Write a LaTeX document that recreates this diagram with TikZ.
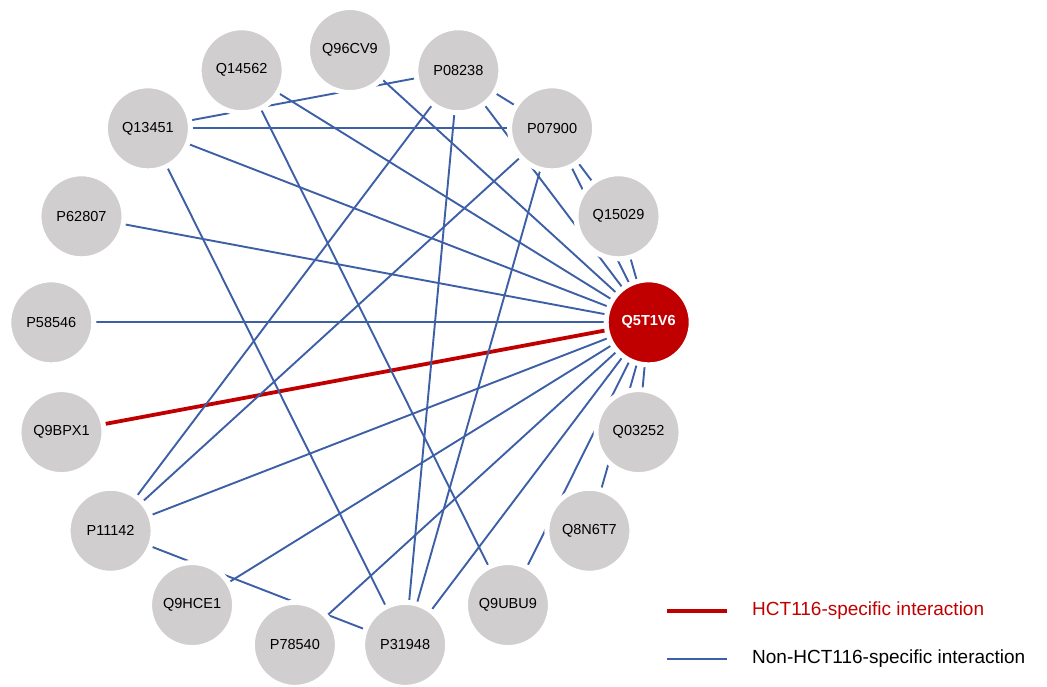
\documentclass[tikz,border=0pt]{standalone}
\usepackage{fontspec}
\setmainfont{Liberation Sans}
\usetikzlibrary{backgrounds}
\definecolor{nodegray}{HTML}{D0CECE}
\definecolor{hubred}{HTML}{C00000}
\definecolor{edgeblue}{HTML}{3D5FA6}
\begin{document}
\begin{tikzpicture}[x=1pt,y=1pt,
  prot/.style={circle, fill=nodegray, draw=white, line width=5pt, minimum size=85pt, inner sep=0pt, font=\fontsize{14.5}{16}\selectfont},
  hubnode/.style={prot, fill=hubred, text=white, font=\fontsize{14.5}{16}\selectfont\bfseries},
  ppi/.style={draw=edgeblue, line width=1.9pt},
  hctppi/.style={draw=hubred, line width=3.8pt},
  legtext/.style={anchor=west, inner sep=0pt, font=\fontsize{19}{22}\selectfont}]
\useasboundingbox (0,0) rectangle (1047,-686);
\node[prot] (Q96CV9) at ([shift={(350,-350)}]90:300) {Q96CV9};
\node[prot] (P08238) at ([shift={(350,-350)}]68.824:300) {P08238};
\node[prot] (P07900) at ([shift={(350,-350)}]47.647:300) {P07900};
\node[prot] (Q15029) at ([shift={(350,-350)}]26.471:300) {Q15029};
\node[hubnode] (Q5T1V6) at ([shift={(350,-350)}]5.294:300) {Q5T1V6};
\node[prot] (Q03252) at ([shift={(350,-350)}]-15.882:300) {Q03252};
\node[prot] (Q8N6T7) at ([shift={(350,-350)}]-37.059:300) {Q8N6T7};
\node[prot] (Q9UBU9) at ([shift={(350,-350)}]-58.235:300) {Q9UBU9};
\node[prot] (P31948) at ([shift={(350,-350)}]-79.412:300) {P31948};
\node[prot] (P78540) at ([shift={(350,-350)}]-100.588:300) {P78540};
\node[prot] (Q9HCE1) at ([shift={(350,-350)}]-121.765:300) {Q9HCE1};
\node[prot] (P11142) at ([shift={(350,-350)}]-142.941:300) {P11142};
\node[prot] (Q9BPX1) at ([shift={(350,-350)}]-164.118:300) {Q9BPX1};
\node[prot] (P58546) at ([shift={(350,-350)}]174.706:300) {P58546};
\node[prot] (P62807) at ([shift={(350,-350)}]153.529:300) {P62807};
\node[prot] (Q13451) at ([shift={(350,-350)}]132.353:300) {Q13451};
\node[prot] (Q14562) at ([shift={(350,-350)}]111.176:300) {Q14562};
\begin{pgfonlayer}{background}
\foreach \p in {Q13451,Q14562,Q96CV9,P08238,P07900,Q15029,P62807,P58546,P11142,Q9HCE1,P78540,P31948,Q9UBU9,Q8N6T7,Q03252}
  \draw[ppi] (\p.center) -- (Q5T1V6.center);
\draw[hctppi] (Q9BPX1.center) -- (Q5T1V6.center);
\draw[ppi] (Q13451.center) -- (P08238.center);
\draw[ppi] (Q13451.center) -- (P07900.center);
\draw[ppi] (Q13451.center) -- (P31948.center);
\draw[ppi] (Q14562.center) -- (Q9UBU9.center);
\draw[ppi] (P08238.center) -- (P07900.center);
\draw[ppi] (P08238.center) -- (P11142.center);
\draw[ppi] (P08238.center) -- (P31948.center);
\draw[ppi] (P07900.center) -- (Q15029.center);
\draw[ppi] (P07900.center) -- (P11142.center);
\draw[ppi] (P07900.center) -- (P31948.center);
\draw[ppi] (P11142.center) -- (P31948.center);
\end{pgfonlayer}
% legend
\coordinate (la1) at (667,-611);
\coordinate (la2) at (727,-611);
\coordinate (lb1) at (667,-659);
\coordinate (lb2) at (727,-659);
\draw[hctppi] (la1) -- (la2);
\draw[ppi] (lb1) -- (lb2);
\node[legtext, text=hubred] (legA) at (752,-611) {HCT116-specific interaction};
\node[legtext] (legB) at (752,-659) {Non-HCT116-specific interaction};
\end{tikzpicture}
\end{document}
